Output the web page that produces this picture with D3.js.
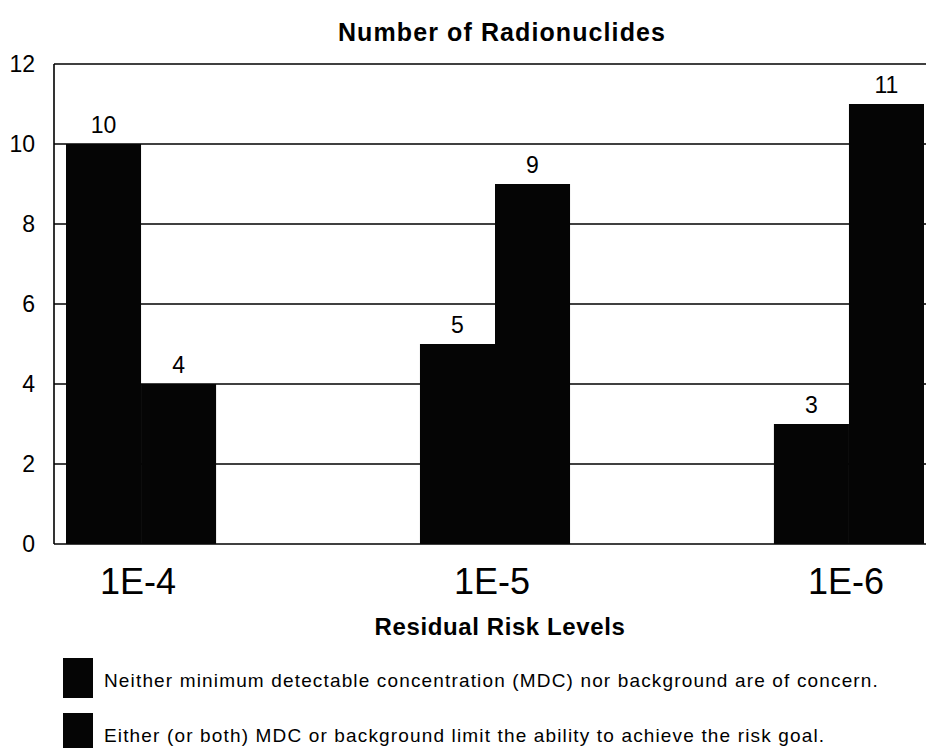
<!DOCTYPE html>
<html>
<head>
<meta charset="utf-8">
<script src="https://cdn.jsdelivr.net/npm/d3@7"></script>
<style>
  body { margin: 0; background: #fff; }
  text { font-family: "Liberation Sans", Arial, sans-serif; fill: #000; }
</style>
</head>
<body>
<svg id="chart"></svg>
<script>
// data
const levels = ["1E-4", "1E-5", "1E-6"]
const notConcern = [10, 5, 3]
const limited = [4, 9, 11]
const yTicks = [0, 2, 4, 6, 8, 10, 12]
const legendLabels = [
  "Neither minimum detectable concentration (MDC) nor background are of concern.",
  "Either (or both) MDC or background limit the ability to achieve the risk goal."
]

const width = 926, height = 748
const margin = {top: 64, right: -4, bottom: 204, left: 54}

const svg = d3.select("#chart")
  .attr("width", width)
  .attr("height", height)

const y = d3.scaleLinear()
  .domain([0, 12])
  .range([height - margin.bottom, margin.top])

// groups: first bar starts at ~66, last ends at ~924
const x = d3.scaleBand()
  .domain(levels)
  .range([66, 924])
  .paddingInner(0.576)
  .paddingOuter(0)

const xs = d3.scaleBand()
  .domain(["a", "b"])
  .range([0, x.bandwidth()])

const rows = levels.map((l, i) => ({level: l, values: [
  {key: "a", v: notConcern[i]},
  {key: "b", v: limited[i]}
]}))

// gridlines
svg.append("g")
  .selectAll("line")
  .data(yTicks)
  .join("line")
    .attr("x1", margin.left)
    .attr("x2", width - margin.right)
    .attr("y1", d => y(d))
    .attr("y2", d => y(d))
    .attr("stroke", "#000")
    .attr("stroke-width", 1.6)

// left frame line
svg.append("line")
  .attr("x1", margin.left).attr("x2", margin.left)
  .attr("y1", y(12)).attr("y2", y(0))
  .attr("stroke", "#000")
  .attr("stroke-width", 1.6)

// y tick labels
svg.append("g")
  .selectAll("text")
  .data(yTicks)
  .join("text")
    .attr("x", 35)
    .attr("y", d => y(d))
    .attr("dy", "0.35em")
    .attr("text-anchor", "end")
    .attr("font-size", 23)
    .text(d => d)

const group = svg.append("g")
  .selectAll("g")
  .data(rows)
  .join("g")
    .attr("transform", d => `translate(${x(d.level)},0)`)

group.selectAll("rect")
  .data(d => d.values)
  .join("rect")
    .attr("x", d => xs(d.key))
    .attr("y", d => y(d.v))
    .attr("width", xs.bandwidth())
    .attr("height", d => y(0) - y(d.v))
    .attr("fill", "#050505")

group.selectAll("text")
  .data(d => d.values)
  .join("text")
    .attr("x", d => xs(d.key) + xs.bandwidth() / 2)
    .attr("y", d => y(d.v) - 11)
    .attr("text-anchor", "middle")
    .attr("font-size", 23)
    .text(d => d.v)

// x category labels
svg.append("g")
  .selectAll("text")
  .data(levels)
  .join("text")
    .attr("x", d => x(d) + x.bandwidth() / 2 - 3)
    .attr("y", 594)
    .attr("text-anchor", "middle")
    .attr("font-size", 36)
    .text(d => d)

// titles
svg.append("text")
  .attr("x", 502)
  .attr("y", 41)
  .attr("text-anchor", "middle")
  .attr("font-size", 25)
  .attr("font-weight", "bold")
  .attr("letter-spacing", 1.1)
  .text("Number of Radionuclides")

svg.append("text")
  .attr("x", 500)
  .attr("y", 635)
  .attr("text-anchor", "middle")
  .attr("font-size", 24)
  .attr("font-weight", "bold")
  .attr("letter-spacing", 0.6)
  .text("Residual Risk Levels")

// legend
const legend = svg.append("g")
  .selectAll("g")
  .data(legendLabels)
  .join("g")
    .attr("transform", (d, i) => `translate(63,${658 + i * 55})`)

legend.append("rect")
  .attr("width", 30)
  .attr("height", 40)
  .attr("fill", "#050505")

legend.append("text")
  .attr("x", 41)
  .attr("y", 22)
  .attr("dy", "0.35em")
  .attr("font-size", 19)
  .attr("letter-spacing", 1.15)
  .text(d => d)
</script>
</body>
</html>
